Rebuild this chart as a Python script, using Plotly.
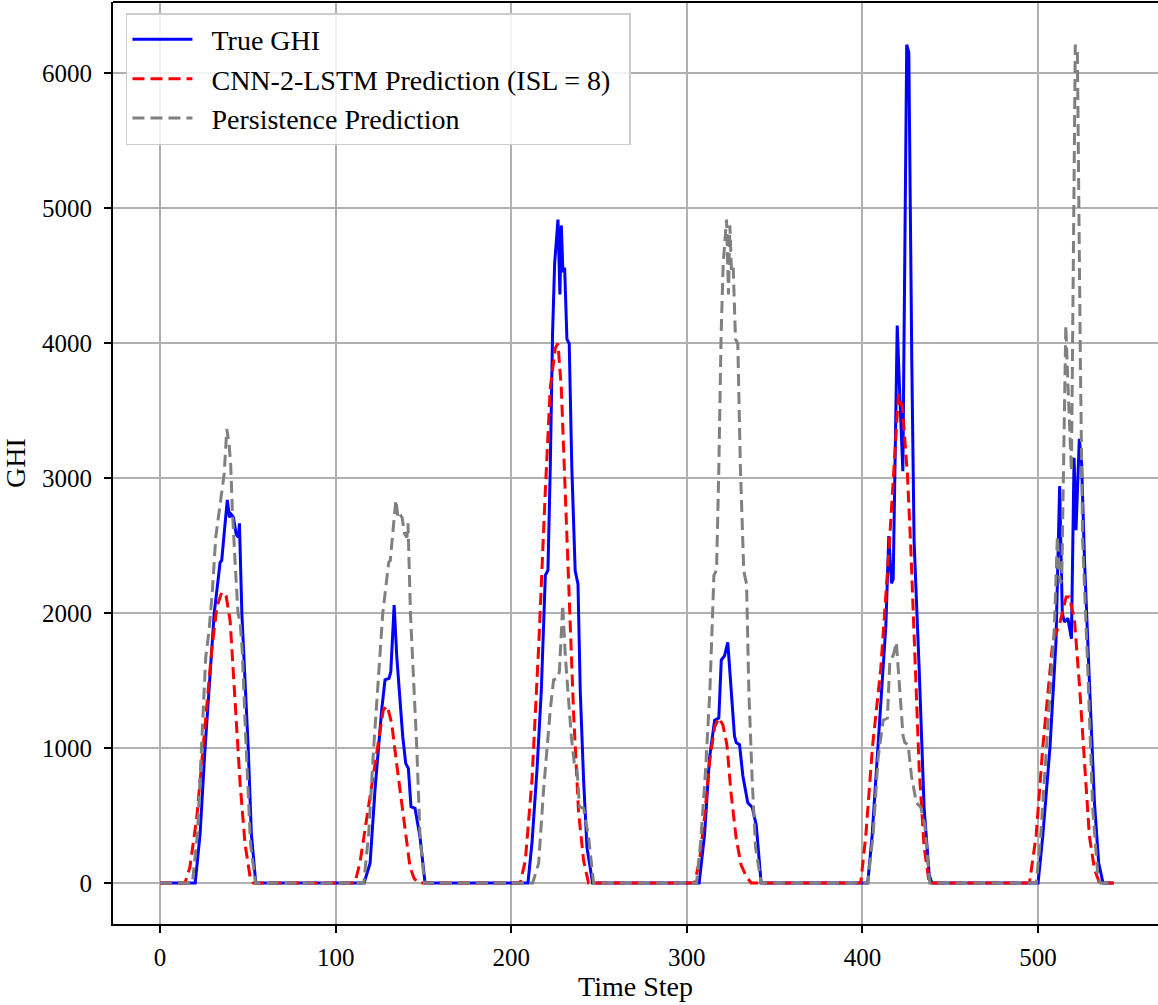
import plotly.graph_objects as go

# ---------------- data (vertices) ----------------
true_x = [0, 20, 22.8, 25.6, 28.5, 30.8, 34.2, 35.1, 37, 38.3, 39.5, 40.4, 41.8, 43.3, 44.6, 45.2, 46.6, 50.2, 52, 54.5,
          116.2, 119.6, 122.4, 124.3, 126.2, 128.1, 130.4, 131.4, 133.3, 134.8, 136.3, 138.2, 139.9, 141.4, 142.9, 145.2, 148, 150.9,
          209.5, 211.8, 214.6, 217.1, 219.4, 220.9, 222.2, 223.5, 224.7, 226.6, 227.7, 228.5, 229.4, 230.4, 231.7, 233, 234.5, 236.4, 238, 239.3, 241.2, 243.1, 246.3,
          307, 310.1, 312.9, 315.8, 318.2, 319.6, 321.5, 323.3, 325.2, 327.1, 328.1, 330, 331.9, 334.7, 337.2, 339.5, 342.3,
          403, 405.5, 408.5, 411, 413.3, 415, 416.5, 417.5, 419.8, 421, 423, 425.2, 426.4, 428.1, 429.4, 432.3, 435.1, 438, 439.5,
          500, 502.7, 506.8, 510.2, 512.3, 513.8, 515, 517, 519, 520.5, 521.6, 523.5, 524.8, 526.4, 529.2, 532.1, 534.5, 537, 543]
true_y = [0, 0, 363, 993, 1548, 1993, 2375, 2388, 2659, 2837, 2709, 2733, 2709, 2585, 2560, 2664, 1993, 1000, 363, 0,
          0, 146, 689, 985, 1281, 1504, 1516, 1565, 2059, 1677, 1380, 1084, 886, 849, 565, 553, 343, 0,
          0, 297, 826, 1420, 2279, 2318, 3071, 4062, 4590, 4914, 4359, 4871, 4524, 4557, 4029, 3996, 3071, 2312, 2213, 1420, 760, 264, 0,
          0, 363, 925, 1205, 1222, 1651, 1684, 1783, 1420, 1090, 1040, 1024, 793, 594, 561, 429, 0,
          0, 350, 950, 1500, 1900, 2570, 2220, 2250, 4130, 3700, 3050, 6210, 6150, 3850, 2531, 1584, 556, 62, 0,
          0, 350, 1008, 1790, 2940, 2000, 1934, 1960, 1810, 3150, 2613, 3290, 3107, 2407, 1502, 597, 150, 0, 0]

cnn_x = [0, 14.2, 17, 20.9, 24.7, 29.4, 32.3, 35.1, 37.6, 39.9, 42.7, 45.6, 48.4, 51.3, 53.1,
         110.9, 113.8, 116.6, 120.4, 124.3, 127.1, 129.4, 131.9, 134.7, 137.6, 140, 142.3, 144.6, 147,
         205.1, 208, 211.8, 215.6, 219.4, 222.2, 225.1, 226.6, 228.5, 230.8, 233, 235.5, 238.3, 241.2, 244,
         304.4, 307.2, 310.1, 312.9, 315.8, 318.2, 320.5, 322.8, 325.2, 328.1, 330.9, 333.8, 336.6,
         399, 401.9, 405.7, 410.4, 415.2, 419, 420.5, 422.8, 425.6, 427.5, 429.4, 432.3, 435.1, 438,
         495.1, 498.9, 502.7, 508.4, 512.2, 516, 517.8, 520.7, 523.6, 526.4, 529.2, 532.1, 535, 543]
cnn_y = [0, 0, 116, 486, 1030, 1721, 2042, 2153, 2128, 1943, 1351, 733, 289, 42, 0,
         0, 146, 393, 714, 1035, 1281, 1311, 1183, 886, 590, 343, 121, 35, 0,
         0, 165, 760, 1750, 2906, 3666, 3963, 3996, 3666, 2906, 2081, 1255, 528, 165, 0,
         0, 165, 495, 892, 1156, 1222, 1172, 1024, 660, 330, 132, 50, 0,
         0, 350, 1008, 1584, 2490, 3354, 3621, 3518, 3025, 2490, 1790, 844, 267, 0,
         0, 350, 1008, 1790, 1914, 2119, 2119, 1955, 1461, 885, 350, 103, 0, 0]

pers_x = [0, 18.4, 21.3, 24.1, 26, 27.9, 29.8, 31.7, 33.6, 34.9, 36.5, 38, 39.3, 40.2, 41.2, 43.1, 44.4, 45.5, 46.8, 48.7, 51.5, 54.4,
          116, 118.8, 121.6, 124.5, 126.8, 130.2, 131.1, 133, 134.3, 135.5, 136.4, 137.8, 139.3, 140.6, 141.2, 142.6, 146.2, 148, 150.5,
          212.2, 215.6, 218.4, 220.3, 222.2, 224.1, 226.4, 227.4, 229.3, 230.8, 232.3, 234.2, 235.9, 237.4, 238.9, 241.2, 244, 246.9,
          305.5, 307.8, 310.6, 313.1, 315.4, 316.9, 318.2, 319.5, 320.7, 322.6, 323.7, 324.5, 325.4, 326.4, 327.7, 329, 330.5, 332.4, 334, 335.3, 337.2, 339.1, 342.3,
          403, 406.1, 408.9, 411.8, 414.2, 415.6, 417.5, 419.3, 421.2, 423.1, 424.1, 426, 427.9, 430.7, 433.2, 435.5, 438.3,
          499, 501.5, 504.5, 507, 509.3, 511, 512.5, 513.5, 515.8, 517, 519, 521.2, 522.4, 524.1, 525.4, 528.3, 531.1, 534, 535.5, 543]
pers_y = [0, 0, 363, 1104, 1672, 1869, 2165, 2560, 2758, 2857, 3030, 3363, 3252, 3104, 2758, 2289, 1993, 1943, 1721, 1104, 289, 0,
          0, 363, 993, 1548, 1993, 2375, 2388, 2659, 2837, 2709, 2733, 2709, 2585, 2560, 2664, 1993, 1000, 363, 0,
          0, 146, 689, 985, 1281, 1504, 1516, 1565, 2059, 1677, 1380, 1084, 886, 849, 565, 553, 343, 0,
          0, 297, 826, 1420, 2279, 2318, 3071, 4062, 4590, 4914, 4359, 4871, 4524, 4557, 4029, 3996, 3071, 2312, 2213, 1420, 760, 264, 0,
          0, 363, 925, 1205, 1222, 1651, 1684, 1783, 1420, 1090, 1040, 1024, 793, 594, 561, 429, 0,
          0, 350, 950, 1500, 1900, 2570, 2220, 2250, 4130, 3700, 3050, 6210, 6150, 3850, 2531, 1584, 556, 62, 0, 0]

x_ticks = [0, 100, 200, 300, 400, 500]
y_ticks = [0, 1000, 2000, 3000, 4000, 5000, 6000]
series_names = ["True GHI", "CNN-2-LSTM Prediction (ISL = 8)", "Persistence Prediction"]

# ---------------- figure ----------------
FONT = "Liberation Serif"
PAD = "\u00a0\u00a0"   # small gap between legend sample and label
TAIL = "\u00a0\u00a0"  # right padding inside the legend box
fig = go.Figure()
fig.add_trace(go.Scatter(x=true_x, y=true_y, mode="lines", name=PAD + series_names[0],
                         line=dict(color="#0000ff", width=3)))
fig.add_trace(go.Scatter(x=cnn_x, y=cnn_y, mode="lines", name=PAD + series_names[1] + TAIL,
                         line=dict(color="#ff0000", width=3, dash="12px,6px")))
fig.add_trace(go.Scatter(x=pers_x, y=pers_y, mode="lines", name=PAD + series_names[2],
                         line=dict(color="#808080", width=3, dash="12px,6px")))

axis_common = dict(showline=True, linecolor="black", linewidth=1.8,
                   ticks="outside", ticklen=7, tickwidth=1.8, tickcolor="black",
                   showgrid=True, gridcolor="#b0b0b0", gridwidth=1.5,
                   zeroline=False, tickfont=dict(family=FONT, size=25, color="black"))

fig.update_layout(
    width=1158, height=1005,
    margin=dict(l=113, r=0, t=2, b=81),
    plot_bgcolor="white", paper_bgcolor="white",
    font=dict(family=FONT, size=25, color="black"),
    xaxis=dict(range=[-26.8, 568.3], tickvals=x_ticks, ticklabelstandoff=3,
               title=dict(text="Time Step", font=dict(family=FONT, size=28), standoff=6),
               **axis_common),
    yaxis=dict(range=[-304, 6526], tickvals=y_ticks, ticklabelstandoff=7,
               title=dict(text="GHI", font=dict(family=FONT, size=28), standoff=14),
               **axis_common),
    legend=dict(x=0.0124, y=0.988, xanchor="left", yanchor="top",
                bgcolor="rgba(255,255,255,0.85)", bordercolor="#cccccc", borderwidth=1.5,
                font=dict(family=FONT, size=28), itemwidth=60, tracegroupgap=0),
    shapes=[dict(type="line", xref="paper", yref="paper", x0=0, x1=1, y0=1, y1=1,
                 line=dict(color="black", width=1.8))],
)

fig.write_html("out.html")
